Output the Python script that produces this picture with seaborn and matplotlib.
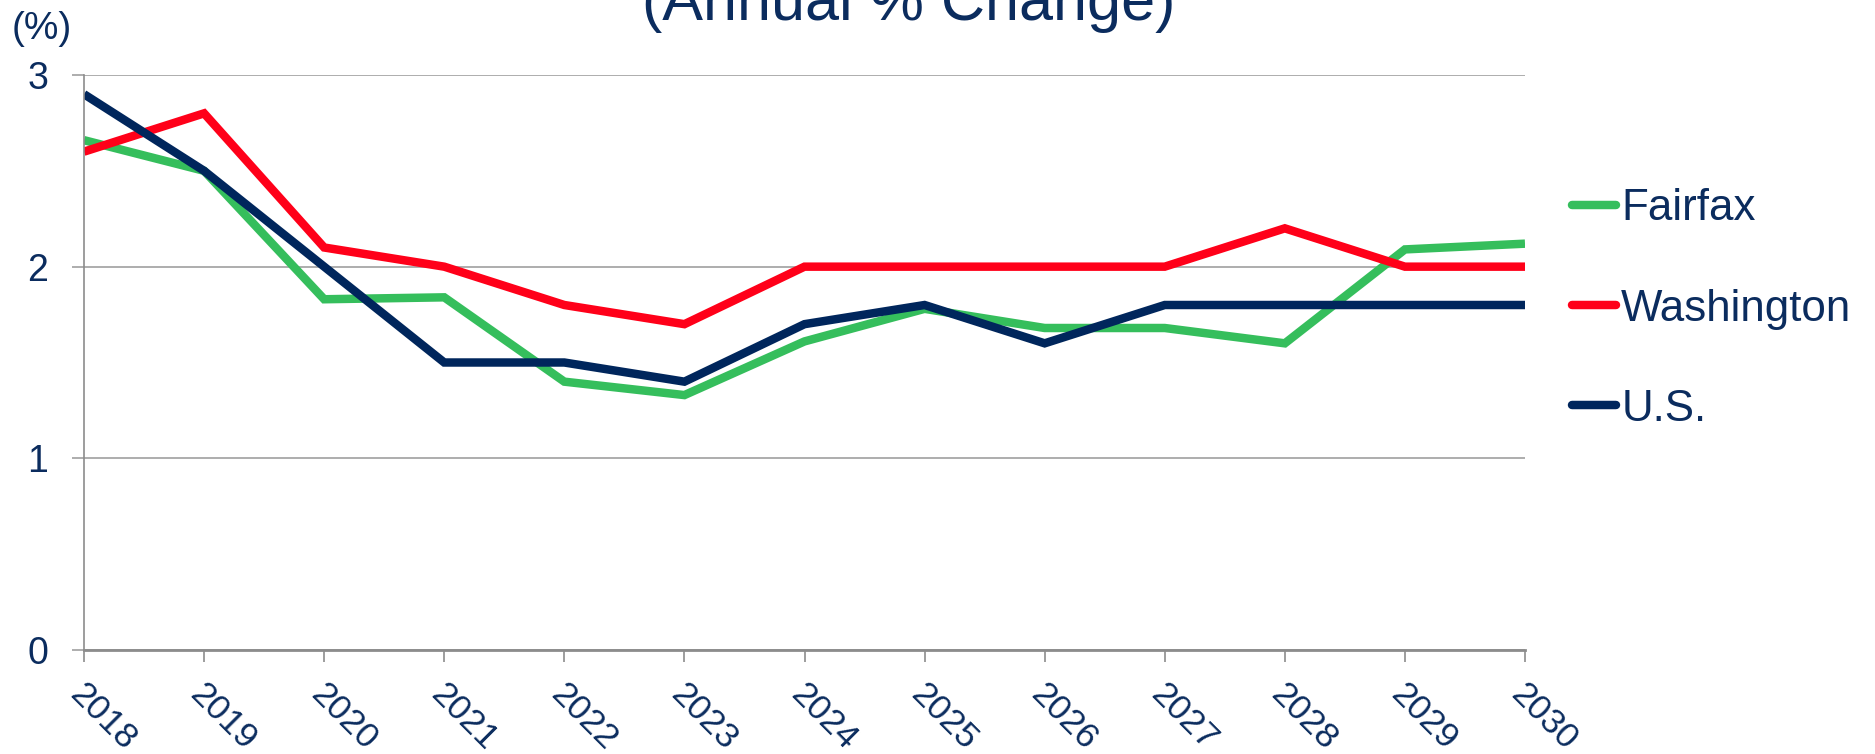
import numpy as np
import pandas as pd
import matplotlib
matplotlib.use("Agg")
import matplotlib.pyplot as plt
import matplotlib.transforms as mtransforms
from matplotlib.lines import Line2D
import seaborn as sns

# ---- data ----
years = [2018, 2019, 2020, 2021, 2022, 2023, 2024, 2025, 2026, 2027, 2028, 2029, 2030]
fairfax = [2.66, 2.50, 1.83, 1.84, 1.40, 1.33, 1.61, 1.78, 1.68, 1.68, 1.60, 2.09, 2.12]
washington = [2.60, 2.80, 2.10, 2.00, 1.80, 1.70, 2.00, 2.00, 2.00, 2.00, 2.20, 2.00, 2.00]
us = [2.90, 2.50, 2.00, 1.50, 1.50, 1.40, 1.70, 1.80, 1.60, 1.80, 1.80, 1.80, 1.80]
series_names = ["Fairfax", "Washington", "U.S."]
y_ticks = [0, 1, 2, 3]
title_text = "(Annual % Change)"
unit_text = "(%)"

colors = {"Fairfax": "#35BE5C", "Washington": "#FF0019", "U.S.": "#00265C"}
text_color = "#0B2C5E"
grid_color = "#A0A0A0"
LW = 6.1

df = pd.DataFrame({
    "year": years * 3,
    "value": fairfax + washington + us,
    "series": [series_names[0]] * len(years) + [series_names[1]] * len(years) + [series_names[2]] * len(years),
})

sns.set_theme(style="white")
plt.rcParams["font.family"] = ["Liberation Sans", "DejaVu Sans"]

fig = plt.figure(figsize=(18.75, 7.54), dpi=100)
ax = fig.add_axes([84 / 1875, 1 - 650 / 754, (1525 - 84) / 1875, (650 - 75) / 754])

sns.lineplot(data=df, x="year", y="value", hue="series", hue_order=series_names,
             palette=colors, linewidth=LW, ax=ax, legend=False, sort=False)
for ln in ax.lines:
    ln.set_linewidth(LW)
    ln.set_solid_joinstyle("miter")
    ln.set_solid_capstyle("butt")

ax.set_xlim(years[0], years[-1])
ax.set_ylim(0, 3)
ax.set_xticks(years)
ax.set_xticklabels([str(y) for y in years])
ax.set_yticks(y_ticks)
ax.set_yticklabels([str(v) for v in y_ticks])
ax.set_xlabel("")
ax.set_ylabel("")

ax.yaxis.grid(True, color=grid_color, linewidth=1.2)
ax.xaxis.grid(False)
ax.set_axisbelow(True)
for s in ["top", "right"]:
    ax.spines[s].set_visible(False)
ax.spines["left"].set_color("#8C8C8C")
ax.spines["left"].set_linewidth(1.2)
ax.spines["bottom"].set_color("#8C8C8C")
ax.spines["bottom"].set_linewidth(2.0)

ax.tick_params(axis="y", direction="out", length=8.6, width=1.2, color=grid_color,
               labelsize=27, labelcolor=text_color, pad=17, left=True)
ax.tick_params(axis="x", direction="out", length=8.6, width=1.2, color="#8C8C8C",
               labelsize=25.5, labelcolor=text_color, pad=11, bottom=True)

offset = mtransforms.ScaledTranslation(3 / 100, 0, fig.dpi_scale_trans)
for lbl in ax.get_xticklabels():
    lbl.set_rotation(-45)
    lbl.set_ha("left")
    lbl.set_va("top")
    lbl.set_rotation_mode("anchor")
    lbl.set_transform(lbl.get_transform() + offset)

# legend
handles = [Line2D([0], [0], color=colors[n], linewidth=LW, solid_capstyle="round") for n in series_names]
leg = fig.legend(handles, series_names, loc="center left",
                 bbox_to_anchor=(1572 / 1875, 1 - 309 / 754),
                 frameon=False, fontsize=31.6, handlelength=1.0, handletextpad=0.12,
                 labelspacing=1.35, borderaxespad=0, borderpad=0)
for t in leg.get_texts():
    t.set_color(text_color)

fig.text(909 / 1875, 1 - 20 / 754, title_text, ha="center", va="baseline",
         fontsize=44, color=text_color)
fig.text(12 / 1875, 1 - 11 / 754, unit_text, ha="left", va="top",
         fontsize=28, color=text_color)

fig.savefig("out.png", dpi=100, facecolor="white")
